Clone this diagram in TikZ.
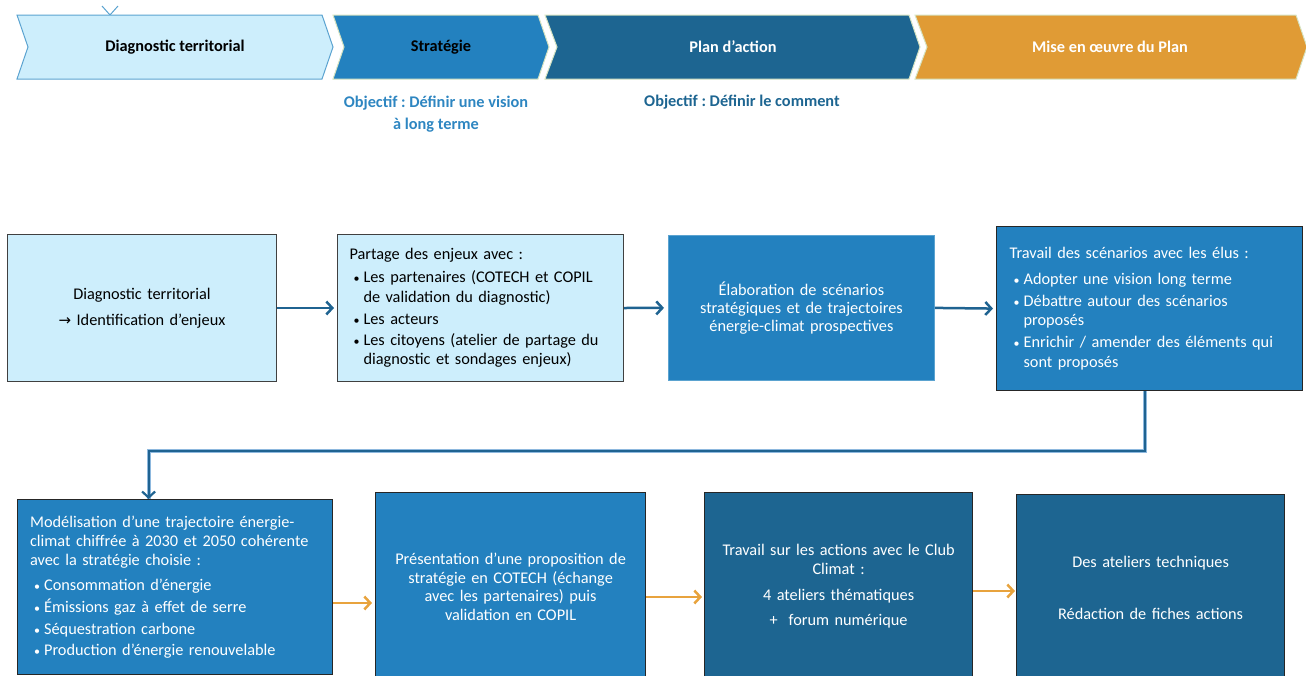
\documentclass[tikz,border=0pt]{standalone}
\usepackage{fontspec}
\setmainfont{Carlito}
\newfontfamily\symfont{DejaVu Sans}
\usetikzlibrary{arrows.meta}
\frenchspacing
\definecolor{lightfill}{HTML}{CDEEFC}
\definecolor{midblue}{HTML}{2381BF}
\definecolor{darkblue}{HTML}{1D6591}
\definecolor{orangec}{HTML}{E09B35}
\definecolor{arrowblue}{HTML}{1F6391}
\definecolor{arroworange}{HTML}{E8A33D}
\definecolor{chevline}{HTML}{5BA3D0}
\definecolor{chevborder}{HTML}{D6E3C2}
\definecolor{objblue}{HTML}{2E86C1}
\definecolor{connlight}{HTML}{8DB8DE}
\newcommand{\mybul}{\makebox[14pt][l]{\hspace{4pt}{\fontsize{12}{12}\selectfont\textbullet}}}
\newcommand{\myind}{\hspace*{14pt}}
\begin{document}
\begin{tikzpicture}[x=1pt,y=-1pt,
  txt/.style={font=\fontsize{16.3}{19.5}\selectfont},
  chevtext/.style={font=\bfseries\fontsize{16.3}{19}\selectfont},
  objtext/.style={font=\bfseries\fontsize{16.3}{22}\selectfont, align=center},
  boxbase/.style={txt, anchor=north west, inner sep=0pt},
  lightbox/.style={boxbase, fill=lightfill, draw=black!75, line width=1pt},
  midbox/.style={boxbase, fill=midblue, draw=black!85, line width=1.2pt, text=white},
  midboxlight/.style={boxbase, fill=midblue, draw=chevline, line width=0.8pt, text=white},
  darkbox/.style={boxbase, fill=darkblue, draw=black!85, line width=1.2pt, text=white},
  barrow/.style={draw=arrowblue, line width=2.5pt, -{Straight Barb[length=6pt,width=13pt]}},
  oarrow/.style={draw=arroworange, line width=2.5pt, -{Straight Barb[length=6pt,width=13pt]}},
]
\useasboundingbox (0,0) rectangle (1306,675);
\clip (0,0) rectangle (1306,675);

% top chevrons
\draw[chevline, line width=1pt] (102,6) -- (110,15) -- (118,6);
\filldraw[fill=orangec, draw=chevborder, line width=1pt] (915,15) -- (1296,15) -- (1307,47) -- (1296,79) -- (915,79) -- (927,47) -- cycle;
\filldraw[fill=darkblue, draw=chevborder, line width=1pt] (545,15) -- (909,15) -- (920,47) -- (909,79) -- (545,79) -- (557,47) -- cycle;
\filldraw[fill=midblue, draw=chevborder, line width=1pt] (333,15) -- (538,15) -- (549,47) -- (538,79) -- (333,79) -- (344,47) -- cycle;
\filldraw[fill=lightfill, draw=chevline, line width=1pt] (17,15) -- (322,15) -- (333,47) -- (322,79) -- (17,79) -- (28,47) -- cycle;
\node[chevtext] (t1) at (175,47) {Diagnostic territorial};
\node[chevtext] (t2) at (441,47) {Stratégie};
\node[chevtext, text=white] (t3) at (733,47) {Plan d’action};
\node[chevtext, text=white] (t4) at (1110,47) {Mise en œuvre du Plan};

\node[objtext, text=objblue] (o1) at (436,114) {Objectif : Définir une vision\\à long terme};
\node[objtext, text=darkblue] (o2) at (742,102) {Objectif : Définir le comment};

% row 1
\node[lightbox, minimum width=269pt, minimum height=147pt, text width=269pt, align=center] (A) at (7,234)
  {Diagnostic territorial\\[6.5pt]{\symfont\fontsize{15}{19}\selectfont →} Identification d’enjeux};
\node[lightbox, minimum width=286pt, minimum height=147pt, text width=262pt, align=left] (B) at (337,234)
  {Partage des enjeux avec :\\[3.5pt]
   \mybul Les partenaires (COTECH et COPIL\\
   \myind de validation du diagnostic)\\[2.5pt]
   \mybul Les acteurs\\[1.5pt]
   \mybul Les citoyens (atelier de partage du\\
   \myind diagnostic et sondages enjeux)};
\node[midboxlight, minimum width=266pt, minimum height=145pt, text width=256pt, align=center, font=\fontsize{16.3}{18}\selectfont] (C) at (668,235)
  {Élaboration de scénarios\\stratégiques et de trajectoires\\énergie-climat prospectives};
\node[midbox, minimum width=306pt, minimum height=164pt, text width=280pt, align=left] (D) at (996,226)
  {Travail des scénarios avec les élus :\\[6.5pt]
   \mybul Adopter une vision long terme\\[2.5pt]
   \mybul Débattre autour des scénarios\\
   \myind proposés\\[2.5pt]
   \mybul Enrichir / amender des éléments qui\\
   \myind sont proposés};

% row 2
\node[midbox, minimum width=315pt, minimum height=175pt, text width=290pt, align=left, font=\fontsize{16.3}{19}\selectfont] (E) at (17,499)
  {Modélisation d’une trajectoire énergie-\\climat chiffrée à 2030 et 2050 cohérente\\avec la stratégie choisie :\\[6pt]
   \mybul Consommation d’énergie\\[3pt]
   \mybul Émissions gaz à effet de serre\\[3pt]
   \mybul Séquestration carbone\\[2pt]
   \mybul Production d’énergie renouvelable};
\node[midbox, minimum width=270pt, minimum height=188pt, text width=256pt, align=center, font=\fontsize{16.3}{18.5}\selectfont] (F) at (375,492)
  {Présentation d’une proposition de\\stratégie en COTECH (échange\\avec les partenaires) puis\\validation en COPIL};
\node[darkbox, minimum width=268pt, minimum height=188pt, text width=256pt, align=center, font=\fontsize{16.3}{19}\selectfont] (G) at (704,492)
  {Travail sur les actions avec le Club\\Climat :\\[7pt]4 ateliers thématiques\\[6pt]+\ \ forum numérique};
\node[darkbox, minimum width=268pt, minimum height=186pt, text width=256pt, align=center] (H) at (1016,494)
  {Des ateliers techniques\\[32.5pt]Rédaction de fiches actions};

% connectors row 1
\draw[barrow, shorten >=3pt] (A.east) -- (B.west);
\draw[barrow, shorten >=4pt] (B.east) -- (C.west);
\draw[barrow, shorten >=3pt] (C.east) -- (D.west);

% connector D -> E
\draw[connlight, line width=4pt] ([xshift=-5pt]D.south) -- ++(0,60) -| ([xshift=-26.5pt]E.north);
\draw[arrowblue, line width=2.2pt, -{Straight Barb[length=6pt,width=13pt]}] ([xshift=-5pt]D.south) -- ++(0,60) -| ([xshift=-26.5pt]E.north);

% connectors row 2
\draw[oarrow, shorten >=3pt] (E.east |- 0,603) -- (F.west |- 0,603);
\draw[oarrow, shorten >=2pt] (F.east |- 0,597) -- (G.west |- 0,597);
\draw[oarrow, shorten >=1pt] (G.east |- 0,591) -- (H.west |- 0,591);
\end{tikzpicture}
\end{document}
